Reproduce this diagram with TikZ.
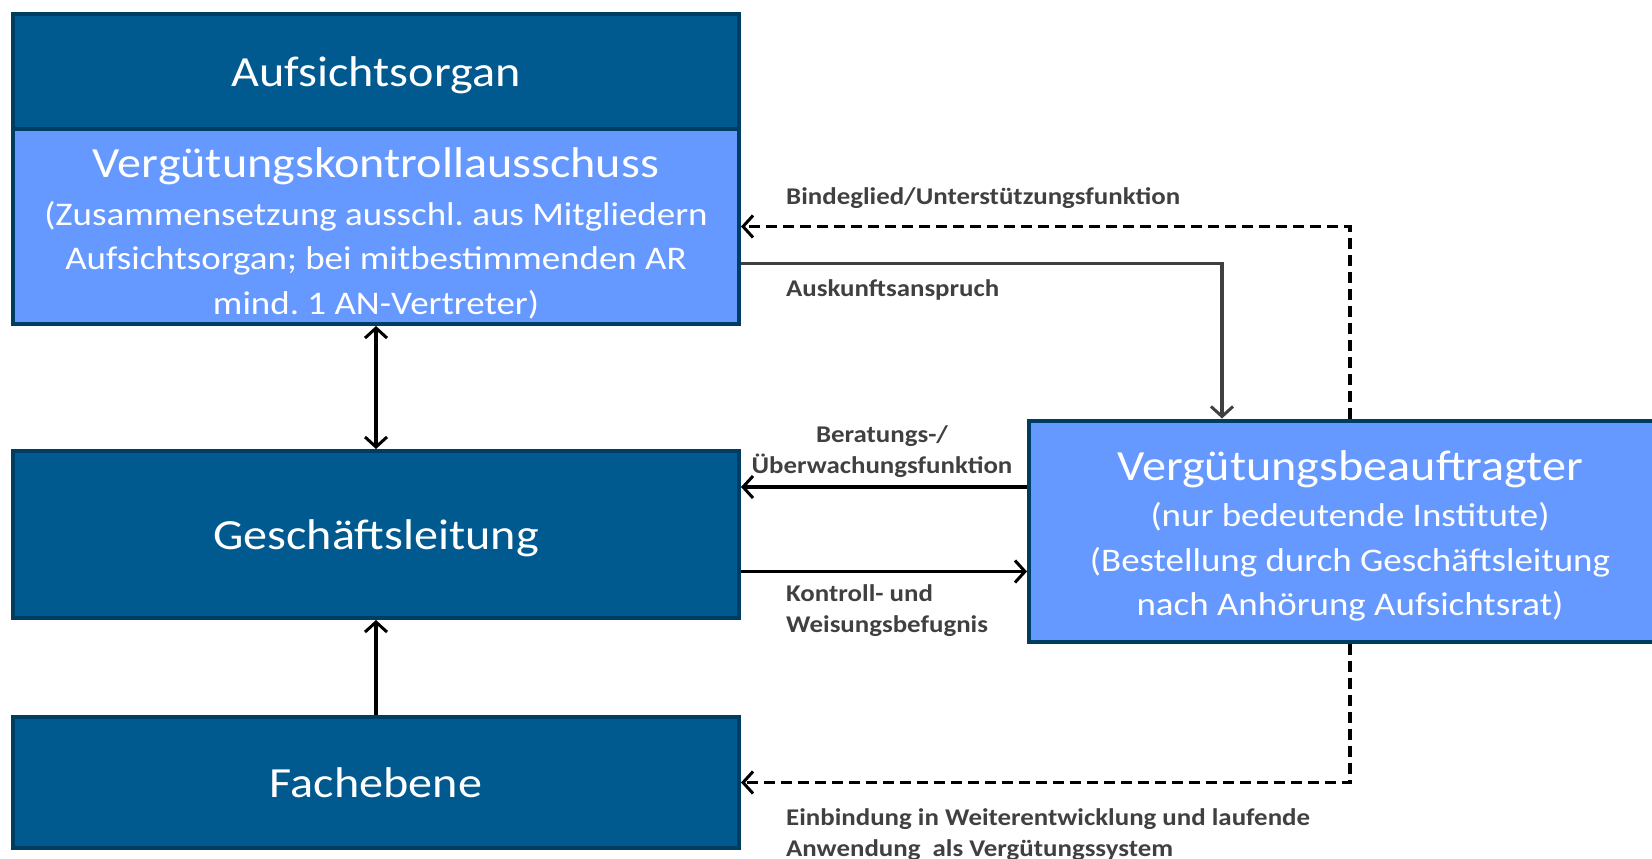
\documentclass[tikz,border=0pt]{standalone}
\usepackage{fontspec}
\setmainfont[FakeStretch=1.12]{Carlito}
\usetikzlibrary{arrows.meta}
\definecolor{darkfill}{RGB}{0,90,143}
\definecolor{lightfill}{RGB}{102,153,255}
\definecolor{boxline}{RGB}{0,61,99}
\definecolor{labelgray}{RGB}{64,64,64}
\newcommand{\titlefont}{\fontsize{43}{50}\selectfont}
\newcommand{\subfont}{\fontsize{33}{44.5}\selectfont}
\frenchspacing
\tikzset{
  box/.style={draw=boxline, line width=4pt, text=white, align=center, inner sep=0pt, font=\subfont},
  darkbox/.style={box, fill=darkfill, text depth=0pt},
  lightbox/.style={box, fill=lightfill},
  conn/.style={line width=3.5pt, -{Straight Barb[length=10pt,width=22pt,line width=3pt]}},
  dconn/.style={conn, {Straight Barb[length=10pt,width=22pt,line width=3pt]}-{Straight Barb[length=10pt,width=22pt,line width=3pt]}},
  dashconn/.style={conn, dash pattern=on 11pt off 6pt},
  lbl/.style={text=labelgray, font=\fontsize{24}{30.5}\selectfont\bfseries, inner sep=0pt, align=left},
}
\begin{document}
\begin{tikzpicture}[x=1pt,y=-1pt]
\useasboundingbox (0,0) rectangle (1652,859);
\clip (0,0) rectangle (1652,859);

\node[darkbox, minimum width=726pt, minimum height=115pt] (aufsicht) at (376,71.5) {\titlefont Aufsichtsorgan};
\node[lightbox, minimum width=726pt, minimum height=195pt] (vka) at (376,226.5)
  {\rule{0pt}{44pt}{\titlefont Vergütungskontrollausschuss}\\[3pt]
   (Zusammensetzung ausschl. aus Mitgliedern\\
   Aufsichtsorgan; bei mitbestimmenden AR\\
   mind. 1 AN-Vertreter)};
\node[darkbox, minimum width=726pt, minimum height=167pt] (gl) at (376,534.5) {\titlefont Geschäftsleitung};
\node[darkbox, minimum width=726pt, minimum height=131pt] (fach) at (376,782.5) {\titlefont Fachebene};
\node[lightbox, minimum width=642pt, minimum height=221pt] (vb) at (1350,531)
  {\rule{0pt}{40pt}{\titlefont Vergütungsbeauftragter}\\[2pt]
   (nur bedeutende Institute)\\
   (Bestellung durch Geschäftsleitung\\
   nach Anhörung Aufsichtsrat)};

\coordinate (ausk) at ([yshift=-37pt]vka.east);
\coordinate (auskx) at ([xshift=-128pt]vb.north);
\coordinate (bera) at ([yshift=44pt]vb.west);
\coordinate (kontr) at ([yshift=-37pt]gl.east);

\draw[dconn] (vka.south) -- (gl.north);
\draw[conn] (fach.north) -- (gl.south);
\draw[conn, labelgray] (ausk) -| (auskx);
\draw[dashconn] (vb.north) |- (vka.east);
\draw[conn] (bera) -- (bera -| gl.east);
\draw[conn] (kontr) -- (kontr -| vb.west);
\draw[dashconn] (vb.south) |- (fach.east);

\node[lbl, anchor=base west] (lbind) at (786,204) {Bindeglied/Unterstützungsfunktion};
\node[lbl, anchor=base west] (lausk) at (786,296) {Auskunftsanspruch};
\node[lbl, align=center, anchor=base] (lbera) at (882,473) {Beratungs-/\\Überwachungsfunktion};
\node[lbl, anchor=base west] (lkontr) at (786,632) {Kontroll- und\\Weisungsbefugnis};
\node[lbl, anchor=base west] (lein) at (786,856) {Einbindung in Weiterentwicklung und laufende\\Anwendung\ \ als Vergütungssystem};
\end{tikzpicture}
\end{document}
